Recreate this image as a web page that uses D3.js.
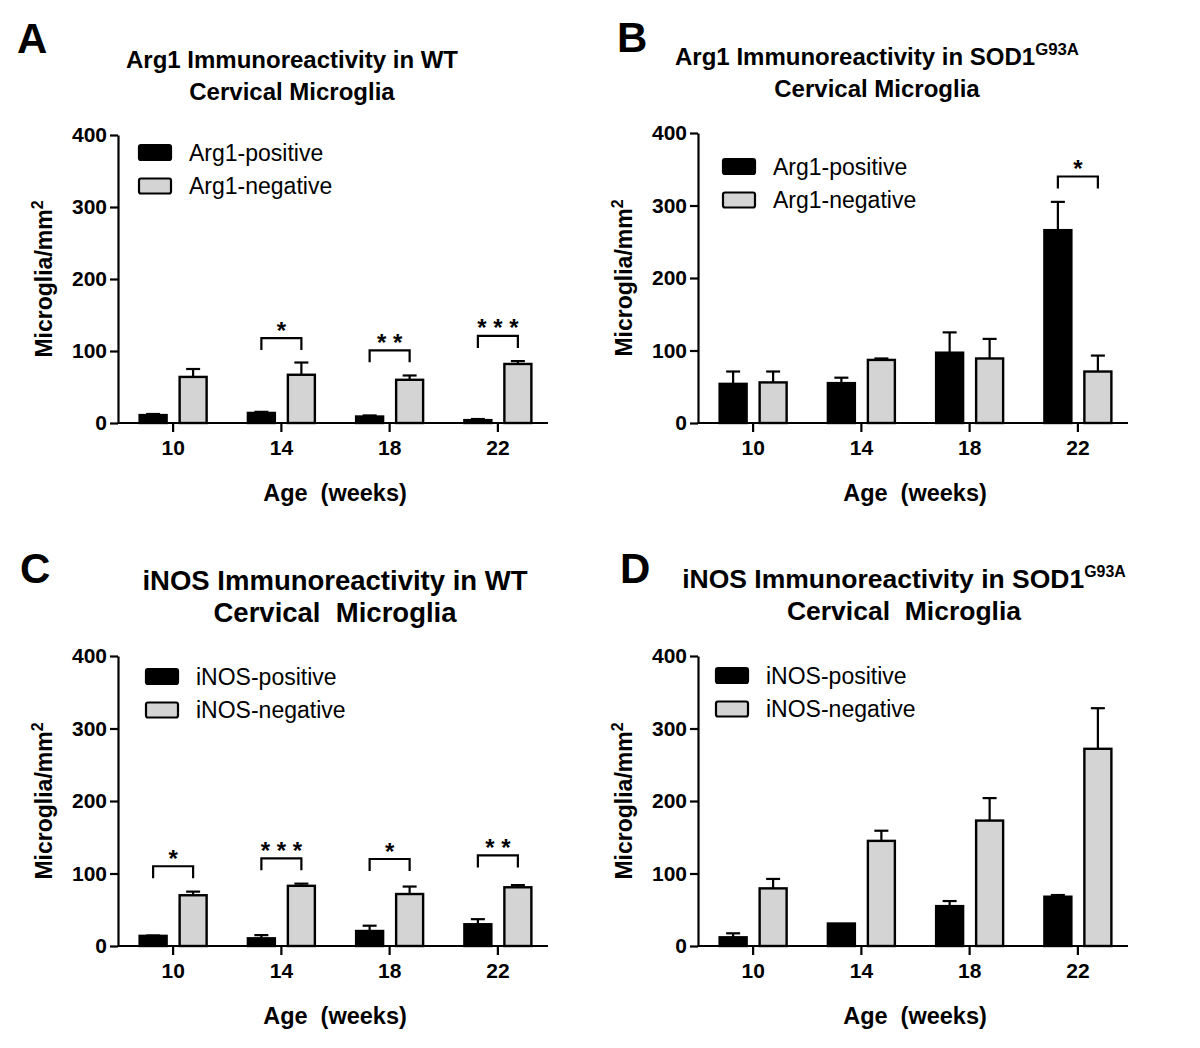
<!DOCTYPE html>
<html><head><meta charset="utf-8">
<script src="https://cdn.jsdelivr.net/npm/d3@7"></script>
<style>
body{margin:0;background:#fff;}
svg text{font-family:"Liberation Sans",Arial,Helvetica,sans-serif;}
</style></head><body>
<svg id="chart" width="1200" height="1048"></svg>
<script>
// ---------- data ----------
const ages = ["10","14","18","22"];
const yTicks = [0,100,200,300,400];

// Panel A: Arg1 in WT
const arg1WtPos    = [11, 14, 9, 4];
const arg1WtPosErr = [1.5, 1.5, 1.5, 1.5];
const arg1WtNeg    = [64, 67, 60, 82];
const arg1WtNegErr = [11, 17, 6, 4];
const arg1WtSig    = [{age:"14", level:118, label:"*"}, {age:"18", level:101, label:"* *"}, {age:"22", level:121, label:"* * *"}];

// Panel B: Arg1 in SOD1 G93A
const arg1SodPos    = [54, 55, 97, 266];
const arg1SodPosErr = [17, 7.5, 28, 39];
const arg1SodNeg    = [56, 87, 89, 71];
const arg1SodNegErr = [15, 2, 27, 22];
const arg1SodSig    = [{age:"22", level:340, label:"*"}];

// Panel C: iNOS in WT
const inosWtPos    = [14, 10.6, 20.7, 30];
const inosWtPosErr = [0.5, 4.4, 7.3, 7];
const inosWtNeg    = [70, 83, 71.7, 81];
const inosWtNegErr = [5, 3, 10.3, 3];
const inosWtSig    = [{age:"10", level:110, label:"*"}, {age:"14", level:121, label:"* * *"}, {age:"18", level:120, label:"*"}, {age:"22", level:125, label:"* *"}];

// Panel D: iNOS in SOD1 G93A
const inosSodPos    = [12, 31, 55, 68];
const inosSodPosErr = [5.5, 0, 7, 2.3];
const inosSodNeg    = [79.5, 145, 173, 272];
const inosSodNegErr = [13, 14, 31, 56];
const inosSodSig    = [];

const legendArg1 = ["Arg1-positive", "Arg1-negative"];
const legendInos = ["iNOS-positive", "iNOS-negative"];

// ---------- layout ----------
const svg = d3.select("#chart");
const GRAY = "#d4d4d4";

const panels = [
  {letter:"A", lx:17, ly:53, x0:118, y0:423, yTop:135,
   t1:"Arg1 Immunoreactivity in WT", sup:null, t2:"Cervical Microglia", tx:292, tb1:68, tb2:100, tfs:24, supS:0.68,
   pos:arg1WtPos, posErr:arg1WtPosErr, neg:arg1WtNeg, negErr:arg1WtNegErr, sig:arg1WtSig,
   legend:legendArg1, legX:139, legY:145},
  {letter:"B", lx:617, ly:52, x0:698, y0:423, yTop:133,
   t1:"Arg1 Immunoreactivity in SOD1", sup:"G93A", t2:"Cervical Microglia", tx:877, tb1:65, tb2:97, tfs:24, supS:0.7,
   pos:arg1SodPos, posErr:arg1SodPosErr, neg:arg1SodNeg, negErr:arg1SodNegErr, sig:arg1SodSig,
   legend:legendArg1, legX:723, legY:159},
  {letter:"C", lx:20, ly:583, x0:118, y0:946, yTop:656,
   t1:"iNOS Immunoreactivity in WT", sup:null, t2:"Cervical  Microglia", tx:335, tb1:590, tb2:622, tfs:27.5, supS:0.6,
   pos:inosWtPos, posErr:inosWtPosErr, neg:inosWtNeg, negErr:inosWtNegErr, sig:inosWtSig,
   legend:legendInos, legX:146, legY:669},
  {letter:"D", lx:620, ly:583, x0:698, y0:946, yTop:656,
   t1:"iNOS Immunoreactivity in SOD1", sup:"G93A", t2:"Cervical  Microglia", tx:904, tb1:588, tb2:620, tfs:26.5, supS:0.6,
   pos:inosSodPos, posErr:inosSodPosErr, neg:inosSodNeg, negErr:inosSodNegErr, sig:inosSodSig,
   legend:legendInos, legX:716, legY:668}
];

const BAR_W = 27, OFF = 20, CAP = 7;

function drawPanel(p) {
  const g = svg.append("g");
  const x = d3.scaleBand().domain(ages).range([p.x0 + 1, p.x0 + 434]);
  const y = d3.scaleLinear().domain([0, 400]).range([p.y0, p.yTop]);
  const cx = a => x(a) + x.bandwidth() / 2;

  // panel letter
  g.append("text").attr("x", p.lx).attr("y", p.ly).attr("font-size", 42).attr("font-weight", "bold").text(p.letter);

  // title
  const t = g.append("text").attr("x", p.tx).attr("y", p.tb1).attr("text-anchor", "middle")
    .attr("font-size", p.tfs).attr("font-weight", "bold");
  t.append("tspan").text(p.t1);
  if (p.sup) t.append("tspan").attr("dy", -p.tfs * 0.42).attr("font-size", p.tfs * p.supS).text(p.sup);
  g.append("text").attr("x", p.tx).attr("y", p.tb2).attr("text-anchor", "middle")
    .attr("font-size", p.tfs).attr("font-weight", "bold").style("white-space", "pre").text(p.t2);

  const series = [
    {vals:p.pos, errs:p.posErr, fill:"#000", off:-OFF},
    {vals:p.neg, errs:p.negErr, fill:GRAY, off:OFF}
  ];
  series.forEach(s => {
    const d = ages.map((a, i) => ({a, v:s.vals[i], e:s.errs[i]}));
    const eb = g.append("g").attr("stroke", "#000").attr("stroke-width", 2.2);
    eb.selectAll("line.v").data(d.filter(o => o.e > 0)).join("line")
      .attr("x1", o => cx(o.a) + s.off).attr("x2", o => cx(o.a) + s.off)
      .attr("y1", o => y(o.v)).attr("y2", o => y(o.v + o.e));
    eb.selectAll("line.c").data(d.filter(o => o.e > 0)).join("line")
      .attr("x1", o => cx(o.a) + s.off - CAP).attr("x2", o => cx(o.a) + s.off + CAP)
      .attr("y1", o => y(o.v + o.e)).attr("y2", o => y(o.v + o.e));
    g.append("g").selectAll("rect").data(d).join("rect")
      .attr("x", o => cx(o.a) + s.off - BAR_W / 2).attr("width", BAR_W)
      .attr("y", o => y(o.v)).attr("height", o => y(0) - y(o.v))
      .attr("fill", s.fill).attr("stroke", "#000").attr("stroke-width", 2.4);
  });

  // significance brackets
  const sg = g.append("g");
  p.sig.forEach(s => {
    const xl = cx(s.age) - OFF, xr = cx(s.age) + OFF, yt = y(s.level);
    sg.append("path").attr("d", `M${xl},${yt + 12}V${yt}H${xr}V${yt + 12}`)
      .attr("fill", "none").attr("stroke", "#000").attr("stroke-width", 2.2);
    sg.append("text").attr("x", (xl + xr) / 2).attr("y", yt - 13.5 + 14).attr("text-anchor", "middle")
      .attr("font-size", 24).attr("font-weight", "bold").style("white-space", "pre").text(s.label);
  });

  // axes
  const ya = g.append("g").attr("transform", `translate(${p.x0},0)`)
    .call(d3.axisLeft(y).tickValues(yTicks).tickSize(8).tickPadding(3).tickSizeOuter(0));
  const xa = g.append("g").attr("transform", `translate(0,${p.y0})`)
    .call(d3.axisBottom(x).tickSize(9).tickPadding(8).tickSizeOuter(0));
  xa.select(".domain").attr("d", `M${p.x0},0H${p.x0 + 430}`);
  [ya, xa].forEach(a => {
    a.attr("font-family", null).attr("font-size", null);
    a.selectAll("path,line").attr("stroke", "#000").attr("stroke-width", 2.2);
    a.selectAll("text").attr("font-size", 21).attr("font-weight", "bold").attr("fill", "#000");
  });

  // axis titles
  g.append("text").attr("x", (p.x0 + p.x0 + 430) / 2 + 2).attr("y", p.y0 + 78).attr("text-anchor", "middle")
    .attr("font-size", 23.5).attr("font-weight", "bold").style("white-space", "pre").text("Age  (weeks)");
  const yl = g.append("text").attr("transform", `translate(${p.x0 - 66},${(p.y0 + p.yTop) / 2}) rotate(-90)`)
    .attr("text-anchor", "middle").attr("font-size", 23).attr("font-weight", "bold");
  yl.append("tspan").text("Microglia/mm");
  yl.append("tspan").attr("dy", -9).attr("font-size", 16).text("2");

  // legend
  const lg = g.append("g");
  p.legend.forEach((name, i) => {
    const by = p.legY + i * 33.5;
    lg.append("rect").attr("x", p.legX).attr("y", by).attr("width", 32).attr("height", 15).attr("rx", 2)
      .attr("fill", i === 0 ? "#000" : GRAY).attr("stroke", "#000").attr("stroke-width", 2.2);
    lg.append("text").attr("x", p.legX + 50).attr("y", by + 15.5).attr("font-size", 23).text(name);
  });
}

panels.forEach(drawPanel);
</script>
</body></html>
